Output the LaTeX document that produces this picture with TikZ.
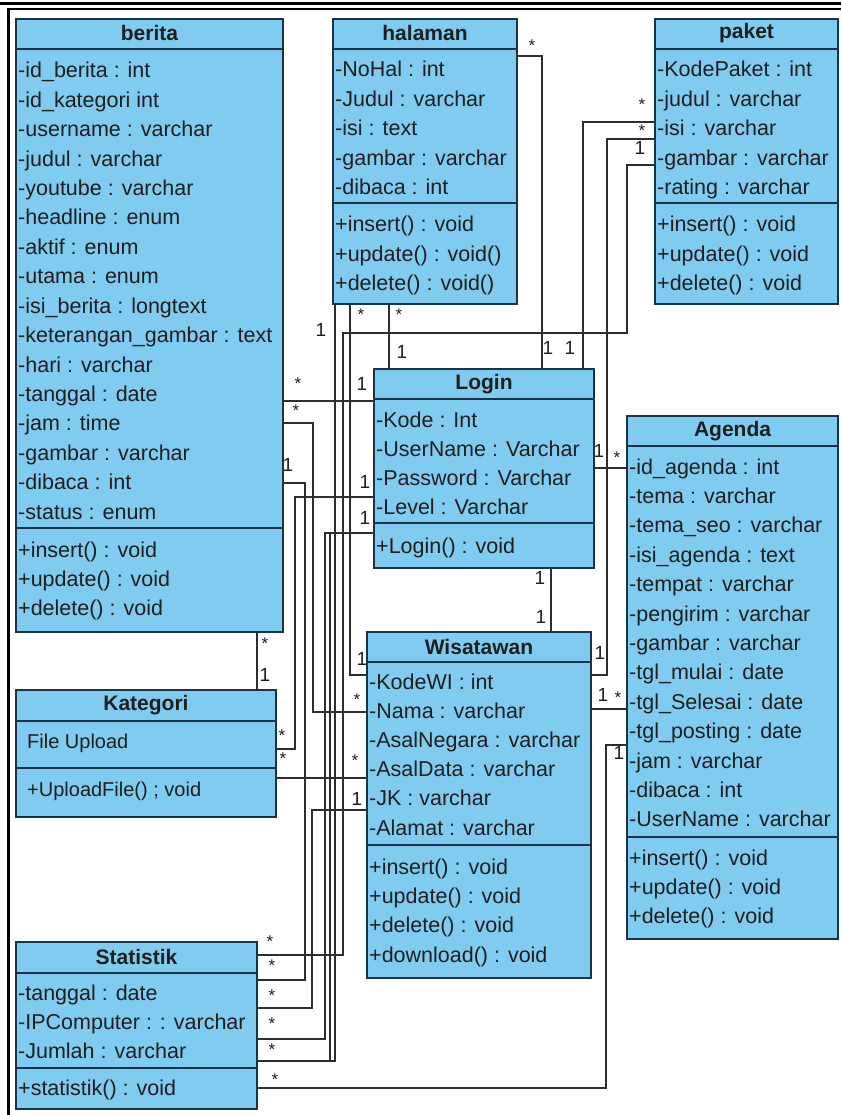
\documentclass[tikz,border=0pt]{standalone}
\usepackage{fontspec}
\setmainfont{Liberation Sans}
\definecolor{boxfill}{RGB}{128,204,240}
\definecolor{bord}{RGB}{28,50,70}
\definecolor{txt}{RGB}{30,30,30}
\definecolor{lnclr}{RGB}{45,45,45}
\tikzset{
  cls/.style={draw=bord, fill=boxfill, line width=2pt, inner sep=0pt, outer sep=0pt, anchor=north west},
  sepline/.style={draw=bord, line width=2pt},
  ttl/.style={font=\bfseries\fontsize{21}{21}\selectfont, text=txt, inner sep=0pt},
  row/.style={anchor=west, font=\fontsize{21.5}{22}\selectfont, text=txt, inner sep=0pt, text height=15pt, text depth=5pt, yshift=-2pt},
  rowk/.style={anchor=west, font=\fontsize{20}{22}\selectfont, text=txt, inner sep=0pt, text height=14pt, text depth=5pt, yshift=-1pt},
  conn/.style={draw=lnclr, line width=1.6pt},
  lbl/.style={font=\fontsize{19}{19}\selectfont, text=txt, inner sep=0pt},
  star/.style={font=\fontsize{17}{17}\selectfont, text=txt, inner sep=0pt}
}
\begin{document}
\begin{tikzpicture}[x=1pt,y=-1pt]
\useasboundingbox (0,0) rectangle (841,1115);
% frame
\draw[line width=3pt] (0,4) -- (841,4);
\draw[line width=1.4pt] (7,9) -- (841,9);
\draw[line width=3pt] (8,9) -- (8,1115);

% class boxes
\node[cls, minimum width=267pt, minimum height=613pt] (berita) at (16,19) {};
\node[cls, minimum width=184pt, minimum height=285pt] (halaman) at (333,19) {};
\node[cls, minimum width=183pt, minimum height=285pt] (paket) at (655,19) {};
\node[cls, minimum width=220pt, minimum height=199pt] (login) at (374,369) {};
\node[cls, minimum width=211pt, minimum height=523pt] (agenda) at (627,416) {};
\node[cls, minimum width=224pt, minimum height=346pt] (wisata) at (367,632) {};
\node[cls, minimum width=260pt, minimum height=127pt] (kat) at (16,690) {};
\node[cls, minimum width=241pt, minimum height=167pt] (stat) at (16,942) {};

% compartments
\foreach \b/\y in {berita/49, berita/528, halaman/49, halaman/203, paket/49, paket/203,
  login/399, login/523, agenda/446, agenda/837, wisata/662, wisata/845,
  kat/721, kat/768, stat/973, stat/1068}
  \draw[sepline] (\b.west |- 0,\y) -- (\b.east |- 0,\y);

% titles
\node[ttl] (tberita) at (149.5,33) {berita};
\node[ttl] (thalaman) at (425,33) {halaman};
\node[ttl] (tpaket) at (746.5,33) {paket};
\node[ttl] (tlogin) at (484,384) {Login};
\node[ttl] (tagenda) at (732.5,431) {Agenda};
\node[ttl] (twisata) at (479,647) {Wisatawan};
\node[ttl] (tkat) at (146,705) {Kategori};
\node[ttl] (tstat) at (136.5,957) {Statistik};

% berita rows
\foreach \t [count=\i from 0] in {-id\_berita : int, -id\_kategori int, -username : varchar,
  -judul : varchar, -youtube : varchar, -headline : enum, -aktif : enum, -utama : enum,
  -isi\_berita : longtext, -keterangan\_gambar : text, -hari : varchar, -tanggal : date,
  -jam : time, -gambar : varchar, -dibaca : int, -status : enum}
  \node[row] (ba\i) at (18, 71+29.4*\i) {\t};
\foreach \t [count=\i from 0] in {+insert() : void, +update() : void, +delete() : void}
  \node[row] (bm\i) at (18, 550+29.4*\i) {\t};

% halaman rows
\foreach \t [count=\i from 0] in {-NoHal : int, -Judul : varchar, -isi : text, -gambar : varchar, -dibaca : int}
  \node[row] (ha\i) at (335, 70+29.4*\i) {\t};
\foreach \t [count=\i from 0] in {+insert() : void, +update() : void(), +delete() : void()}
  \node[row] (hm\i) at (335, 225+29.4*\i) {\t};

% paket rows
\foreach \t [count=\i from 0] in {-KodePaket : int, -judul : varchar, -isi : varchar, -gambar : varchar, -rating : varchar}
  \node[row] (pa\i) at (657, 70+29.4*\i) {\t};
\foreach \t [count=\i from 0] in {+insert() : void, +update() : void, +delete() : void}
  \node[row] (pm\i) at (657, 225+29.4*\i) {\t};

% login rows
\foreach \t [count=\i from 0] in {-Kode : Int, -UserName : Varchar, -Password : Varchar, -Level : Varchar}
  \node[row] (la\i) at (376, 420+29*\i) {\t};
\node[row] (lm0) at (376, 546) {+Login() : void};

% agenda rows
\foreach \t [count=\i from 0] in {-id\_agenda : int, -tema : varchar, -tema\_seo : varchar,
  -isi\_agenda : text, -tempat : varchar, -pengirim : varchar, -gambar : varchar,
  -tgl\_mulai : date, -tgl\_Selesai : date, -tgl\_posting : date, -jam : varchar,
  -dibaca : int, -UserName : varchar}
  \node[row] (aa\i) at (629, 467+29.4*\i) {\t};
\foreach \t [count=\i from 0] in {+insert() : void, +update() : void, +delete() : void}
  \node[row] (am\i) at (629, 858+29.4*\i) {\t};

% wisatawan rows
\foreach \t [count=\i from 0] in {-KodeWI : int, -Nama : varchar, -AsalNegara : varchar,
  -AsalData : varchar, -JK : varchar, -Alamat : varchar}
  \node[row] (wa\i) at (369, 682+29.2*\i) {\t};
\foreach \t [count=\i from 0] in {+insert() : void, +update() : void, +delete() : void, +download() : void}
  \node[row] (wm\i) at (369, 867+29.4*\i) {\t};

% kategori rows
\node[rowk] (ka0) at (27, 743) {File Upload};
\node[rowk] (km0) at (27, 791) {+UploadFile() ; void};

% statistik rows
\foreach \t [count=\i from 0] in {-tanggal : date, -IPComputer : : varchar, -Jumlah : varchar}
  \node[row] (sa\i) at (18, 993+29*\i) {\t};
\node[row] (sm0) at (18, 1088) {+statistik() : void};

% connectors
\draw[conn] (berita.east |- 0,401) -- (login.west |- 0,401);
\draw[conn] (berita.east |- 0,423) -| (313,712) -- (wisata.west |- 0,712);
\draw[conn] (berita.east |- 0,483) -| (305,980) -- (stat.east |- 0,980);
\draw[conn] (berita.south -| 257,0) -- (kat.north -| 257,0);
\draw[conn] (kat.east |- 0,749) -| (295,497) -- (login.west |- 0,497);
\draw[conn] (kat.east |- 0,778) -- (wisata.west |- 0,778);
\draw[conn] (halaman.south -| 335,0) |- (stat.east |- 0,1061);
\draw[conn] (halaman.south -| 350,0) |- (wisata.west |- 0,675);
\draw[conn] (halaman.south -| 389,0) -- (login.north -| 389,0);
\draw[conn] (halaman.east |- 0,56) -| (login.north -| 542,0);
\draw[conn] (paket.west |- 0,122) -| (login.north -| 583,0);
\draw[conn] (paket.west |- 0,139) -| (607,675) -- (wisata.east |- 0,675);
\draw[conn] (paket.west |- 0,165) -| (627,333) -| (343,955) -- (stat.east |- 0,955);
\draw[conn] (login.west |- 0,533) -| (325,1039) -- (stat.east |- 0,1039);
\draw[conn] (login.west |- 0,533) -| (330,1061) -- (stat.east |- 0,1061);
\draw[conn] (wisata.west |- 0,810) -| (312,1008) -- (stat.east |- 0,1008);
\draw[conn] (login.east |- 0,468) -- (agenda.west |- 0,468);
\draw[conn] (login.south -| 551,0) -- (wisata.north -| 551,0);
\draw[conn] (wisata.east |- 0,709) -- (agenda.west |- 0,709);
\draw[conn] (stat.east |- 0,1088) -| (606,745) -- (agenda.west |- 0,745);

% multiplicity labels
\node[star] (s1) at (298,384) {*};
\node[lbl] (n1) at (362,384) {1};
\node[star] (s2) at (296,411) {*};
\node[star] (s3) at (357,700) {*};
\node[lbl] (n2) at (288,465) {1};
\node[star] (s4) at (272,966) {*};
\node[star] (s5) at (265,644) {*};
\node[lbl] (n3) at (265,675) {1};
\node[star] (s6) at (282,736) {*};
\node[lbl] (n4) at (365,482) {1};
\node[star] (s7) at (283,759) {*};
\node[star] (s8) at (355,761) {*};
\node[lbl] (n5) at (321,330) {1};
\node[star] (s9) at (272,1050) {*};
\node[star] (s10) at (361,315) {*};
\node[lbl] (n6) at (362,659) {1};
\node[star] (s11) at (399,315) {*};
\node[lbl] (n7) at (402,352) {1};
\node[star] (s12) at (532,46) {*};
\node[lbl] (n8) at (548,348) {1};
\node[star] (s13) at (642,105) {*};
\node[lbl] (n9) at (570,348) {1};
\node[star] (s14) at (642,131) {*};
\node[lbl] (n10) at (600,653) {1};
\node[lbl] (n11) at (640,148) {1};
\node[star] (s15) at (270,942) {*};
\node[lbl] (n12) at (365,518) {1};
\node[star] (s16) at (272,1024) {*};
\node[lbl] (n13) at (357,799) {1};
\node[star] (s17) at (272,996) {*};
\node[lbl] (n14) at (599,451) {1};
\node[star] (s18) at (617,458) {*};
\node[lbl] (n15) at (540,578) {1};
\node[lbl] (n16) at (541,617) {1};
\node[lbl] (n17) at (603,695) {1};
\node[star] (s19) at (618,698) {*};
\node[star] (s20) at (275,1080) {*};
\node[lbl] (n18) at (619,753) {1};
\end{tikzpicture}
\end{document}
